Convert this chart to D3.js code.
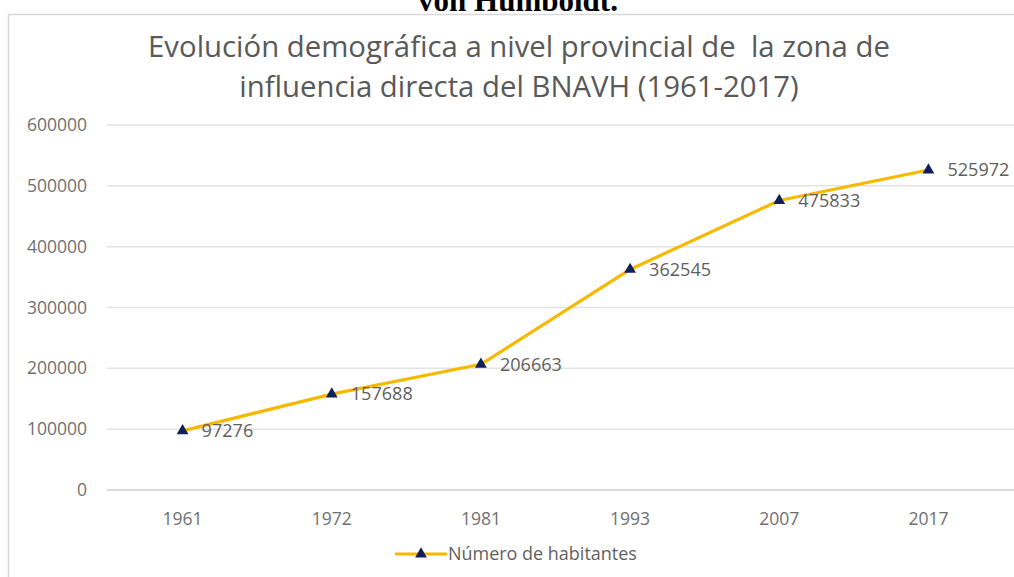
<!DOCTYPE html>
<html><head><meta charset="utf-8">
<script src="https://cdn.jsdelivr.net/npm/d3@7"></script>
<style>body{margin:0;background:#fff;}svg{display:block;}text{white-space:pre;}</style>
</head><body>
<svg id="c" width="1014" height="577"></svg>
<script>
const years = ["1961","1972","1981","1993","2007","2017"];
const habitantes = [97276,157688,206663,362545,475833,525972];
const yTicks = [0,100000,200000,300000,400000,500000,600000];
const titleLines = ["Evolución demográfica a nivel provincial de  la zona de","influencia directa del BNAVH (1961-2017)"];
const headerText = "von Humboldt.";
const seriesName = "Número de habitantes";

const svg = d3.select("#c");
const font = "'Open Sans', 'Noto Sans', sans-serif";

// fit font size so a sample text reaches a target width
function fitSize(txt, target, base){
  const t = svg.append("text").attr("font-family",font).attr("font-size",base).text(txt);
  const w = t.node().getComputedTextLength(); t.remove();
  return base*target/w;
}

// header cut text
svg.append("text").attr("x",518).attr("y",11).attr("text-anchor","middle")
  .attr("font-family","'Liberation Serif','Times New Roman',serif").attr("font-weight","bold")
  .attr("font-size",31).attr("fill","#000").text(headerText);

// chart frame
svg.append("rect").attr("x",8.5).attr("y",14.5).attr("width",1014).attr("height",600)
  .attr("fill","#fff").attr("stroke","#d9d9d9").attr("stroke-width",1.5);

// title
const titleFs = fitSize(titleLines[0], 742, 25);
svg.append("g").selectAll("text").data(titleLines).join("text")
  .attr("x",519).attr("y",(d,i)=>57+i*40).attr("text-anchor","middle")
  .attr("font-family",font).attr("font-size",titleFs).attr("fill","#595959")
  .attr("xml:space","preserve").text(d=>d);

const x = d3.scaleBand().domain(years).range([108,1003]);
const y = d3.scaleLinear().domain([0,600000]).range([490,125]);

const numFs = fitSize("600000", 62, 16);

// gridlines
svg.append("g").selectAll("line").data(yTicks).join("line")
  .attr("x1",107).attr("x2",1014).attr("y1",d=>y(d)).attr("y2",d=>y(d))
  .attr("stroke",d=>d===0?"#d0d0d0":"#e3e3e3").attr("stroke-width",1.5);

// y labels
svg.append("g").selectAll("text").data(yTicks).join("text")
  .attr("x",87).attr("y",d=>y(d)).attr("dy","0.35em").attr("text-anchor","end")
  .attr("font-family",font).attr("font-size",numFs*0.97).attr("fill","#707070").text(d=>d);

// x labels
svg.append("g").selectAll("text").data(years).join("text")
  .attr("x",d=>x(d)+x.bandwidth()/2).attr("y",519).attr("dy","0.35em").attr("text-anchor","middle")
  .attr("font-family",font).attr("font-size",numFs*0.97).attr("fill","#707070").text(d=>d);

const pts = years.map((yr,i)=>[x(yr)+x.bandwidth()/2, y(habitantes[i])]);
const line = d3.line();
svg.append("path").attr("d",line(pts)).attr("fill","none")
  .attr("stroke","#f7b900").attr("stroke-width",3.2).attr("stroke-linejoin","round");

const tri = d3.symbol().type(d3.symbolTriangle).size(60);
svg.append("g").selectAll("path").data(pts).join("path")
  .attr("transform",d=>`translate(${d[0]},${d[1]})`).attr("d",tri).attr("fill","#10205a");

svg.append("g").selectAll("text").data(pts).join("text")
  .attr("x",d=>d[0]+19).attr("y",d=>d[1]).attr("dy","0.35em")
  .attr("font-family",font).attr("font-size",numFs).attr("fill","#5f5f5f")
  .text((d,i)=>habitantes[i]);

// legend
const legFs = fitSize(seriesName, 189, 14);
const lg = svg.append("g");
lg.append("line").attr("x1",395).attr("x2",447).attr("y1",554).attr("y2",554)
  .attr("stroke","#f7b900").attr("stroke-width",3.2);
lg.append("path").attr("transform","translate(421,554)").attr("d",tri).attr("fill","#10205a");
lg.append("text").attr("x",448).attr("y",554).attr("dy","0.35em")
  .attr("font-family",font).attr("font-size",legFs).attr("fill","#5f5f5f").text(seriesName);
</script>
</body></html>
